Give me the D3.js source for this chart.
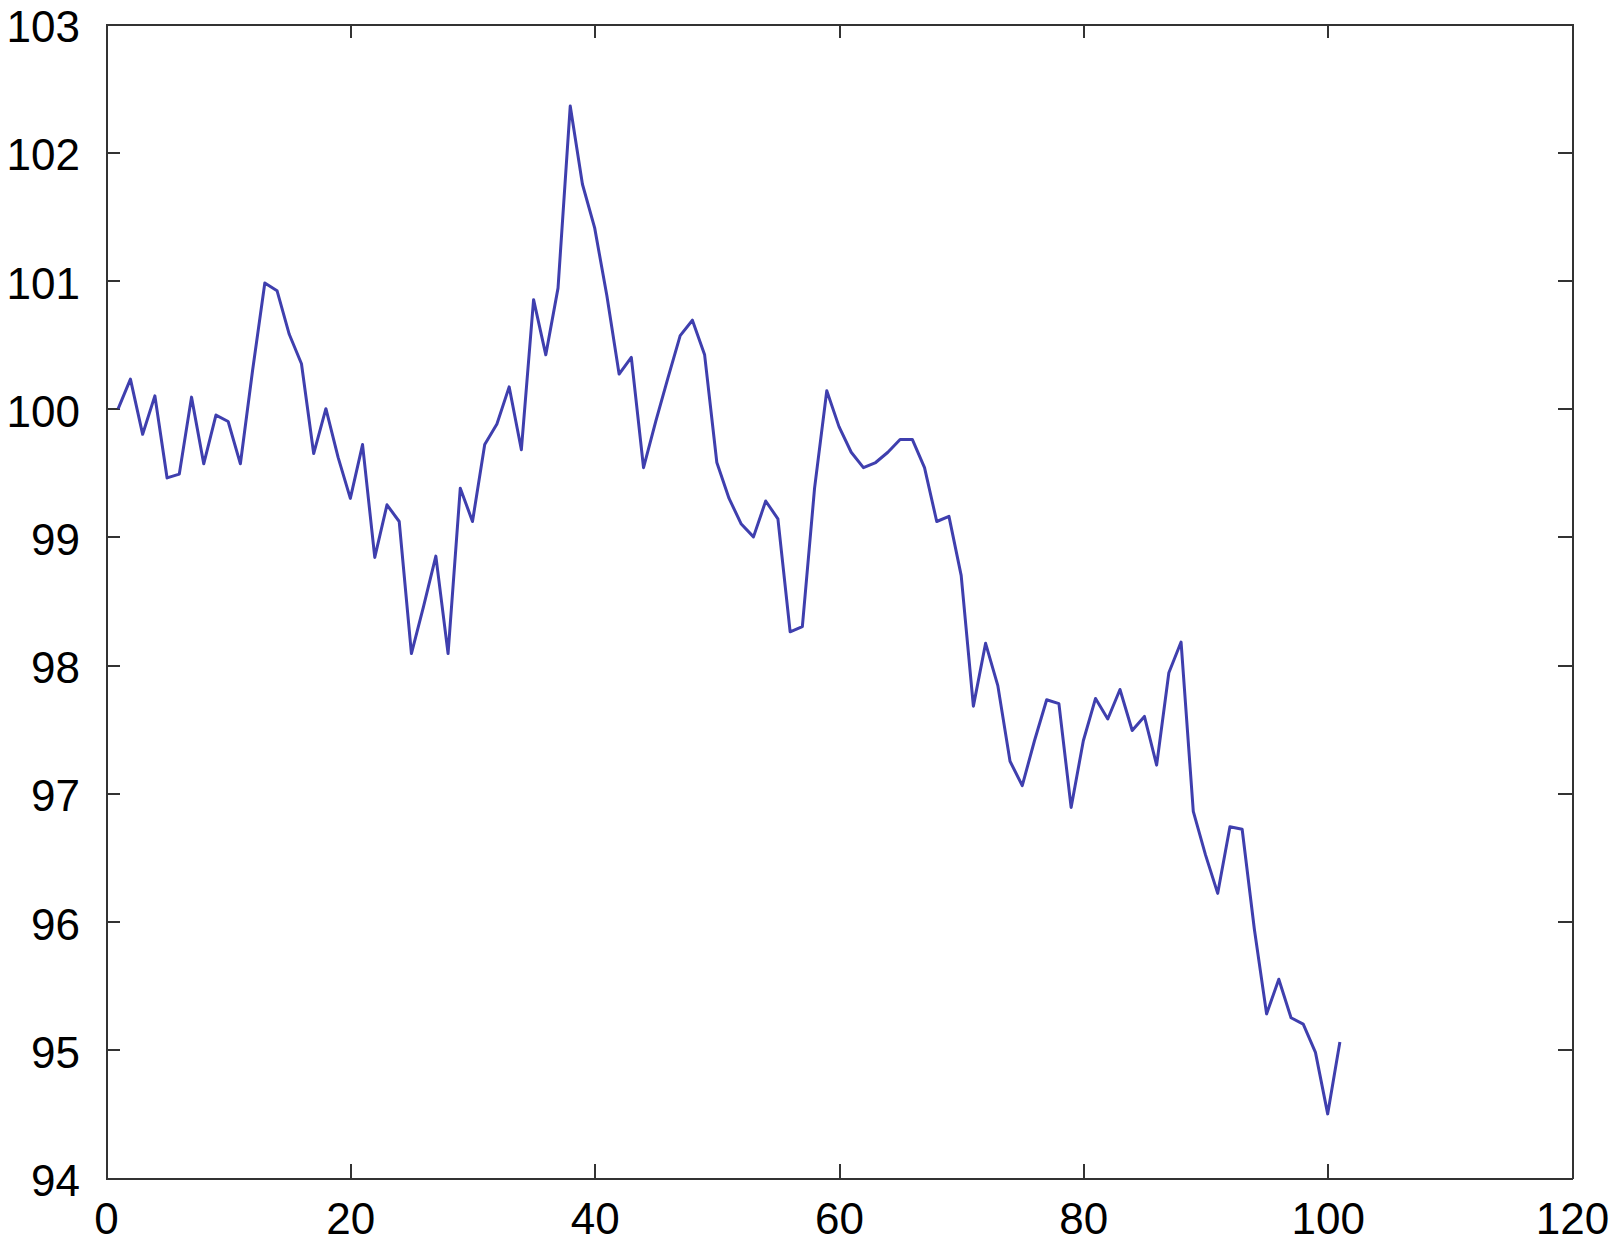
<!doctype html>
<html lang="en">
<head>
<meta charset="utf-8">
<title>Price path</title>
<script src="https://d3js.org/d3.v7.min.js" charset="utf-8"></script>
<style>
body {
     margin: 0;
     background: #fff;
     }

.axis path,
.axis line {
     fill: none;
     stroke: #333;
     stroke-width: 2;
     shape-rendering: crispEdges;
}

.axis text {
     font-family: "Liberation Sans", Arial, sans-serif;
     font-size: 44px;
     fill: #000;
}

.series {
     fill: none;
     stroke: #3f3fae;
     stroke-width: 3;
     stroke-linejoin: round;
}
</style>
</head>
<body>
<div id="vis-container"></div>
<script type="text/javascript">

//values, one per step (steps 1..101)
var price = [
  100.00, 100.23, 99.80, 100.10, 99.46, 99.49, 100.09, 99.57, 99.95, 99.90,
  99.57, 100.30, 100.98, 100.92, 100.58, 100.35, 99.65, 100.00, 99.62, 99.30,
  99.72, 98.84, 99.25, 99.12, 98.09, 98.46, 98.85, 98.09, 99.38, 99.12,
  99.72, 99.88, 100.17, 99.68, 100.85, 100.42, 100.94, 102.36, 101.75, 101.41,
  100.88, 100.27, 100.40, 99.54, 99.90, 100.24, 100.57, 100.69, 100.42, 99.58,
  99.30, 99.10, 99.00, 99.28, 99.14, 98.26, 98.30, 99.38, 100.14, 99.86,
  99.66, 99.54, 99.58, 99.66, 99.76, 99.76, 99.54, 99.12, 99.16, 98.70,
  97.68, 98.17, 97.84, 97.25, 97.06, 97.41, 97.73, 97.70, 96.89, 97.41,
  97.74, 97.58, 97.81, 97.49, 97.60, 97.22, 97.94, 98.18, 96.86, 96.52,
  96.22, 96.74, 96.72, 95.94, 95.28, 95.55, 95.25, 95.20, 94.98, 94.50,
  95.06
];

//tick labels
var xTicks = [0, 20, 40, 60, 80, 100, 120];
var yTicks = [94, 95, 96, 97, 98, 99, 100, 101, 102, 103];

var margin = { top: 24, right: 38, bottom: 70, left: 106 },
    width  = 1610 - margin.left - margin.right,
    height = 1248 - margin.top  - margin.bottom;

var xScale = d3.scaleLinear()
    .domain([0, 120])
    .range([0, width]);

var yScale = d3.scaleLinear()
    .domain([94, 103])
    .range([height, 0]);

var canvas = d3.select("#vis-container")
   .append("svg")
     .attr("width",  width  + margin.left + margin.right)
     .attr("height", height + margin.top  + margin.bottom)
    .append("g")
      .attr("transform", "translate(" + margin.left + "," + margin.top + ")");

//ticks point inwards on all four sides, labels only bottom and left
var tickLen = 14;

canvas.append("g")
    .attr("class", "x axis")
    .attr("transform", "translate(0," + height + ")")
    .call(d3.axisBottom(xScale).tickValues(xTicks)
        .tickSizeInner(-tickLen).tickSizeOuter(0).tickPadding(25));

canvas.append("g")
    .attr("class", "x axis")
    .call(d3.axisTop(xScale).tickValues(xTicks)
        .tickSizeInner(-tickLen).tickSizeOuter(0).tickFormat(""));

var yAxisLeft = canvas.append("g")
    .attr("class", "y axis")
    .call(d3.axisLeft(yScale).tickValues(yTicks)
        .tickSizeInner(-tickLen).tickSizeOuter(0).tickPadding(26));

//sit the labels a touch lower, like the original
yAxisLeft.selectAll("text").attr("dy", "0.4em");

canvas.append("g")
    .attr("class", "y axis")
    .attr("transform", "translate(" + width + ",0)")
    .call(d3.axisRight(yScale).tickValues(yTicks)
        .tickSizeInner(-tickLen).tickSizeOuter(0).tickFormat(""));

//the series itself
var line = d3.line()
    .x(function(d, i) { return xScale(i + 1); })
    .y(function(d) { return yScale(d); });

canvas.append("path")
    .datum(price)
    .attr("class", "series")
    .attr("d", line);

</script>
</body>
</html>
